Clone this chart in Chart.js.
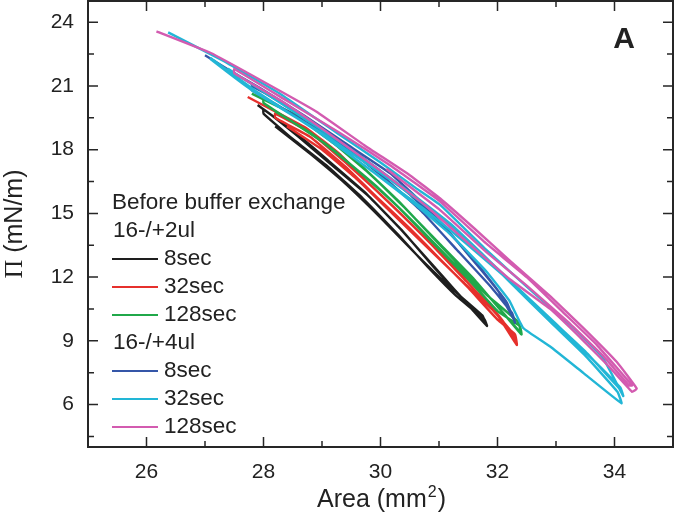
<!DOCTYPE html>
<html>
<head>
<meta charset="utf-8">
<script src="https://cdn.jsdelivr.net/npm/chart.js@4.4.1/dist/chart.umd.min.js"></script>
<style>
html, body { margin: 0; padding: 0; background: #fff; }
canvas { display: block; }
</style>
</head>
<body>
<canvas id="myChart" width="675" height="514"></canvas>
<script>
// axis ticks
const xMajor = [26, 28, 30, 32, 34];
const xMinor = [27, 29, 31, 33];
const yMajor = [6, 9, 12, 15, 18, 21, 24];
const yMinor = [4.5, 7.5, 10.5, 13.5, 16.5, 19.5, 22.5];

// legend texts
const legendTitle = 'Before buffer exchange';
const groupLabels = ['16-/+2ul', '16-/+4ul'];
const seriesLabels = ['8sec', '32sec', '128sec', '8sec', '32sec', '128sec'];

// 16-/+2ul, 8sec (area mm2, pressure mN/m), several compression / expansion cycles
const black8X = [27.9, 28.5, 29.1, 29.73, 30.33, 30.85, 31.3, 31.82,
  31.78, 31.3, 30.8, 30.3, 29.7, 29.1, 28.5, 28.0,
  28.0, 28.6, 29.2, 29.8, 30.4, 30.9, 31.4, 31.8,
  31.74, 31.2, 30.6, 30.0, 29.4, 28.8, 28.2];
const black8Y = [20.1, 18.9, 17.5, 16.0, 14.3, 12.7, 11.3, 9.7,
  10.0, 11.1, 12.5, 14.0, 15.7, 17.2, 18.5, 19.7,
  19.9, 18.6, 17.2, 15.8, 14.1, 12.5, 11.0, 9.8,
  10.2, 11.5, 13.1, 14.8, 16.4, 17.8, 19.1];

// 16-/+2ul, 32sec
const red32X = [27.73, 28.2, 28.74, 29.3, 29.73, 30.3, 30.85, 31.4, 31.98, 32.33,
  32.3, 32.0, 31.5, 31.0, 30.5, 30.0, 29.4, 28.8, 28.2,
  28.2, 28.8, 29.4, 30.0, 30.6, 31.2, 31.7, 32.1, 32.3,
  32.22, 31.9, 31.4, 30.8, 30.2, 29.6, 29.0, 28.4];
const red32Y = [20.48, 19.8, 19.0, 17.8, 16.6, 15.1, 13.6, 12.0, 10.3, 8.8,
  9.3, 10.0, 11.5, 12.9, 14.3, 15.6, 17.2, 18.6, 19.5,
  19.7, 18.8, 17.4, 15.9, 14.3, 12.7, 11.3, 9.9, 9.0,
  9.5, 10.5, 11.8, 13.4, 15.0, 16.6, 18.0, 19.1];

// 16-/+2ul, 128sec
const green128X = [27.8, 28.2, 28.74, 29.3, 29.73, 30.3, 30.85, 31.4, 31.98, 32.41,
  32.38, 32.0, 31.5, 30.9, 30.3, 29.7, 29.1, 28.5, 28.0,
  28.0, 28.6, 29.2, 29.8, 30.4, 31.0, 31.6, 32.1, 32.4,
  32.35, 31.8, 31.2, 30.6, 30.0, 29.4, 28.8, 28.2];
const green128Y = [20.64, 20.1, 19.4, 18.2, 17.1, 15.6, 14.0, 12.4, 10.7, 9.3,
  9.7, 10.4, 11.9, 13.6, 15.3, 16.8, 18.2, 19.3, 20.2,
  20.4, 19.5, 18.3, 16.9, 15.3, 13.6, 11.9, 10.3, 9.4,
  9.9, 11.2, 12.8, 14.5, 16.1, 17.5, 18.8, 19.8];

// 16-/+4ul, 8sec
const blue8X = [27.0, 27.5, 27.94, 28.7, 29.4, 30.16, 30.56, 31.02, 31.7, 32.16, 32.3,
  32.25, 31.9, 31.3, 30.7, 30.1, 29.5, 28.9, 28.3, 27.8,
  27.8, 28.5, 29.2, 29.9, 30.5, 31.1, 31.6, 32.0, 32.28];
const blue8Y = [22.45, 21.6, 20.9, 19.6, 18.3, 16.9, 15.9, 14.6, 12.4, 10.8, 9.85,
  10.3, 11.5, 13.3, 15.1, 16.6, 17.9, 19.0, 20.0, 20.8,
  21.0, 19.9, 18.6, 17.2, 15.9, 14.3, 12.8, 11.4, 10.0];

// 16-/+4ul, 32sec
const cyan32X = [26.37, 27.3, 28.3, 29.3, 30.0, 30.6, 31.02, 31.8, 32.6, 33.3, 33.8, 34.15,
  34.1, 33.6, 33.0, 32.3, 31.5, 30.7, 29.8, 28.8, 27.8, 27.1,
  27.1, 27.9, 28.9, 29.9, 30.6, 31.2, 31.8, 32.2, 32.44, 32.9, 33.47, 34.12,
  34.05, 33.5, 32.9, 32.2, 31.5, 30.8, 30.0, 29.1, 28.1, 27.4,
  27.4, 28.4, 29.4, 30.4, 31.2, 32.0, 32.8, 33.5, 34.1];
const cyan32Y = [23.52, 22.2, 20.6, 18.7, 17.4, 16.2, 15.4, 13.3, 11.3, 9.6, 8.2, 6.4,
  6.8, 8.2, 9.8, 11.6, 13.5, 15.3, 17.1, 19.1, 20.8, 22.25,
  22.3, 20.7, 18.9, 16.9, 15.4, 14.0, 12.3, 10.9, 9.6, 8.73, 7.48, 6.06,
  6.6, 8.3, 9.9, 11.8, 13.7, 15.3, 16.9, 18.6, 20.3, 21.7,
  21.8, 20.0, 18.2, 16.2, 14.5, 12.4, 10.3, 8.5, 6.7];

// 16-/+4ul, 128sec
const mag128X = [26.17, 27.1, 28.0, 28.9, 29.73, 30.5, 31.02, 31.6, 32.2, 32.9, 33.47, 34.04, 34.38,
  34.3, 33.9, 33.47, 32.9, 32.21, 31.5, 30.8, 30.0, 29.2, 28.3, 27.5,
  27.5, 28.4, 29.3, 30.2, 31.0, 31.8, 32.5, 33.1, 33.7, 34.3,
  34.25, 33.8, 33.2, 32.5, 31.8, 31.0, 30.1];
const mag128Y = [23.57, 22.55, 21.2, 19.8, 18.2, 16.8, 15.7, 14.3, 12.8, 11.1, 9.6, 8.0, 6.75,
  6.6, 7.8, 9.0, 10.5, 11.9, 13.6, 15.3, 17.0, 18.6, 20.3, 21.6,
  21.8, 20.3, 18.8, 17.2, 15.6, 13.6, 12.0, 10.4, 8.8, 6.9,
  6.9, 8.3, 9.9, 11.6, 13.2, 15.2, 17.1];

const seriesX = [black8X, red32X, green128X, blue8X, cyan32X, mag128X];
const seriesY = [black8Y, red32Y, green128Y, blue8Y, cyan32Y, mag128Y];
const seriesColors = ['#1e1e1e', '#e6302c', '#20a84a', '#3556a8', '#22b6d6', '#d35bb0'];

const textColor = '#222';
const sans = '"Liberation Sans", Arial, sans-serif';

let datasets = [];
for (let i = 0; i < seriesX.length; i++) {
  datasets.push({
    label: seriesLabels[i],
    data: seriesX[i].map((x, k) => ({ x: x, y: seriesY[i][k] })),
    showLine: true,
    borderColor: seriesColors[i],
    backgroundColor: seriesColors[i],
    borderWidth: 2.4,
    pointRadius: 0,
    tension: 0.1,
    order: 10 - i // later legend entries drawn on top
  });
}

// frame, inward ticks, titles, legend and panel letter
const decorPlugin = {
  id: 'decor',
  afterDraw(chart) {
    const ctx = chart.ctx;
    const a = chart.chartArea;
    const xs = chart.scales.x, ys = chart.scales.y;
    ctx.save();
    ctx.strokeStyle = '#262626';
    ctx.lineWidth = 2;
    ctx.strokeRect(a.left, a.top, a.right - a.left, a.bottom - a.top);

    ctx.lineWidth = 1.5;
    ctx.beginPath();
    const xt = (v, len) => {
      const p = xs.getPixelForValue(v);
      ctx.moveTo(p, a.bottom); ctx.lineTo(p, a.bottom - len);
      ctx.moveTo(p, a.top); ctx.lineTo(p, a.top + len);
    };
    const yt = (v, len) => {
      const p = ys.getPixelForValue(v);
      ctx.moveTo(a.left, p); ctx.lineTo(a.left + len, p);
      ctx.moveTo(a.right, p); ctx.lineTo(a.right - len, p);
    };
    xMajor.forEach(v => xt(v, 10));
    xMinor.forEach(v => xt(v, 6));
    yMajor.forEach(v => yt(v, 10));
    yMinor.forEach(v => yt(v, 6));
    ctx.stroke();

    // x title with superscript
    ctx.fillStyle = textColor;
    ctx.textBaseline = 'alphabetic';
    ctx.textAlign = 'left';
    const big = '25px ' + sans, small = '16px ' + sans;
    ctx.font = big;
    const w1 = ctx.measureText('Area (mm').width;
    const w3 = ctx.measureText(')').width;
    ctx.font = small;
    const w2 = ctx.measureText('2').width;
    let x0 = (a.left + a.right) / 2 - (w1 + w2 + w3) / 2;
    const by = 507;
    ctx.font = big; ctx.fillText('Area (mm', x0, by);
    ctx.font = small; ctx.fillText('2', x0 + w1 + 1, by - 10);
    ctx.font = big; ctx.fillText(')', x0 + w1 + w2 + 2, by);

    // y title, serif Pi
    ctx.save();
    ctx.translate(22, (a.top + a.bottom) / 2);
    ctx.rotate(-Math.PI / 2);
    const piFont = '26px "Liberation Serif", "Times New Roman", serif';
    ctx.font = piFont;
    const wp = ctx.measureText('\u03A0').width;
    ctx.font = big;
    const wr = ctx.measureText(' (mN/m)').width;
    let s0 = -(wp + wr) / 2;
    ctx.font = piFont; ctx.fillText('\u03A0', s0, 0);
    ctx.font = big; ctx.fillText(' (mN/m)', s0 + wp, 0);
    ctx.restore();

    // panel letter
    ctx.font = 'bold 30px ' + sans;
    ctx.textAlign = 'center';
    ctx.textBaseline = 'middle';
    ctx.fillText('A', 624, 40);

    // legend
    ctx.font = '22.5px ' + sans;
    ctx.textAlign = 'left';
    ctx.textBaseline = 'middle';
    const rowY = i => 203 + 28 * i;
    ctx.fillText(legendTitle, 112, rowY(0));
    let row = 1;
    for (let g = 0; g < 2; g++) {
      ctx.fillStyle = textColor;
      ctx.fillText(groupLabels[g], 113, rowY(row));
      row++;
      for (let k = 0; k < 3; k++) {
        const i = g * 3 + k;
        ctx.strokeStyle = seriesColors[i];
        ctx.lineWidth = 2;
        ctx.beginPath();
        ctx.moveTo(112, rowY(row));
        ctx.lineTo(158, rowY(row));
        ctx.stroke();
        ctx.fillStyle = textColor;
        ctx.fillText(seriesLabels[i], 164, rowY(row));
        row++;
      }
    }
    ctx.restore();
  }
};

new Chart(document.getElementById('myChart').getContext('2d'), {
  type: 'scatter',
  data: { datasets: datasets },
  options: {
    responsive: false,
    animation: false,
    devicePixelRatio: 1,
    layout: { padding: { top: 1, right: 2, left: 0, bottom: 0 } },
    plugins: { legend: { display: false }, tooltip: { enabled: false } },
    scales: {
      x: {
        type: 'linear', min: 25, max: 35,
        afterBuildTicks: s => { s.ticks = xMajor.map(v => ({ value: v })); },
        afterFit: s => { s.height = 67; s.paddingLeft = 0; s.paddingRight = 0; },
        grid: { display: false, drawTicks: false, tickLength: 0 }, border: { display: false },
        ticks: { autoSkip: false, maxRotation: 0, padding: 13, color: textColor, font: { family: sans, size: 21 } }
      },
      y: {
        type: 'linear', min: 4, max: 25,
        afterBuildTicks: s => { s.ticks = yMajor.map(v => ({ value: v })); },
        afterFit: s => { s.width = 88; s.paddingTop = 0; s.paddingBottom = 0; },
        grid: { display: false, drawTicks: false, tickLength: 0 }, border: { display: false },
        ticks: { autoSkip: false, padding: 14, color: textColor, font: { family: sans, size: 21 } }
      }
    }
  },
  plugins: [decorPlugin]
});
</script>
</body>
</html>
